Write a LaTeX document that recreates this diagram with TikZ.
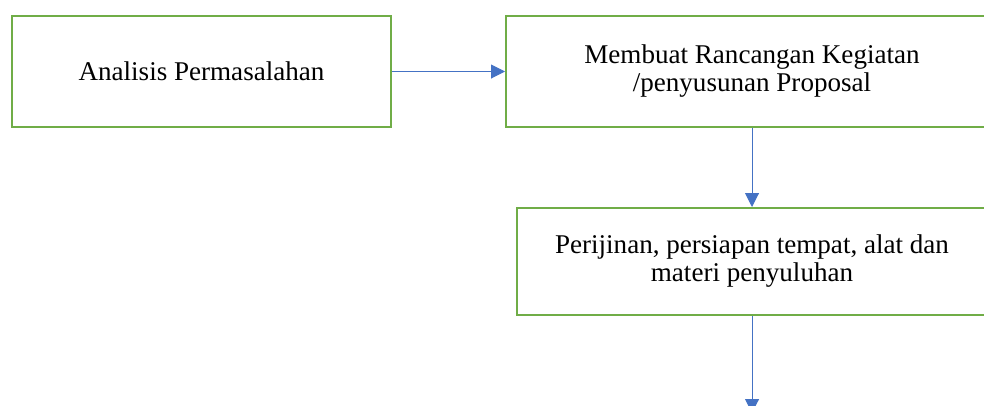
\documentclass[tikz,border=0pt]{standalone}
\usepackage{fontspec}
\setmainfont{Liberation Serif}
\usetikzlibrary{arrows.meta}
\definecolor{hijau}{RGB}{112,173,71}
\definecolor{biru}{RGB}{68,114,196}
\tikzset{
kotak/.style={draw=hijau,line width=1.5pt,align=center,inner sep=0pt,
font=\fontsize{20.3}{21}\selectfont},
panah/.style={draw=biru,line width=0.75pt,-{Triangle[length=10.5pt,width=10.5pt]}}
}
\begin{document}
\begin{tikzpicture}[x=0.75pt,y=-0.75pt]
\useasboundingbox(0,0)rectangle(984,405);
\clip(0,0)rectangle(984,405);
\node[kotak,minimum width=284.25pt,minimum height=83.25pt](analisis)at(201.5,71.5){Analisis Permasalahan};
\node[kotak,minimum width=369pt,minimum height=83.25pt](rancangan)at(752,71.5){Membuat Rancangan Kegiatan\\/penyusunan Proposal};
\node[kotak,minimum width=352.5pt,minimum height=80.25pt](perijinan)at(752,261.5){Perijinan, persiapan tempat, alat dan\\materi penyuluhan};
\coordinate(lanjut)at(752,413);
\draw[panah](analisis.east)--(rancangan.west);
\draw[panah](rancangan.south)--(perijinan.north);
\draw[panah](perijinan.south)--(lanjut);
\end{tikzpicture}
\end{document}
